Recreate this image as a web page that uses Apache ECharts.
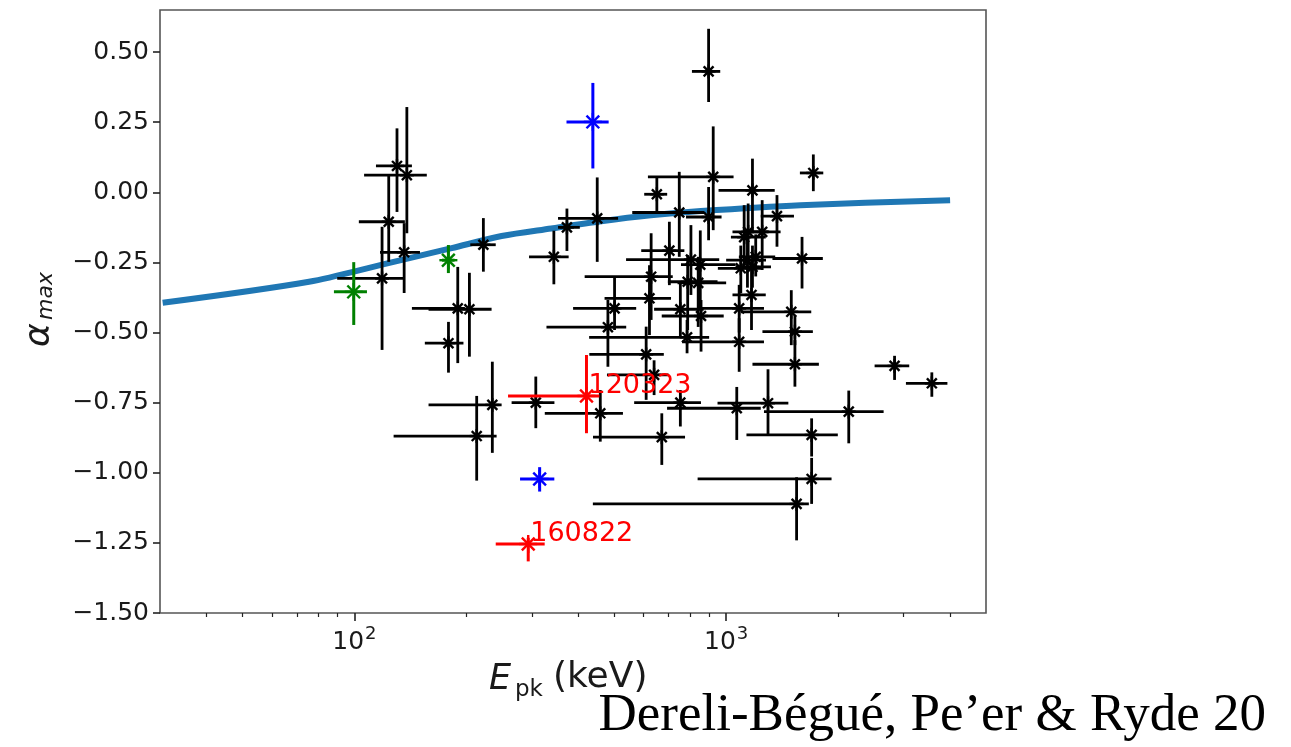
<!DOCTYPE html>
<html>
<head>
<meta charset="utf-8">
<script src="https://cdn.jsdelivr.net/npm/echarts@6/dist/echarts.min.js"></script>
<style>
html,body{margin:0;padding:0;background:#fff;}
#chart{width:1291px;height:747px;}
</style>
</head>
<body>
<div id="chart"></div>
<script>
// Each row: [Epk (keV), alpha_max, Epk low, Epk high, alpha low, alpha high]
const blackPoints = [
  [118.7, -0.307, 89.9, 135.6, -0.562, -0.123],
  [123.7, -0.105, 102.8, 136.7, -0.248, 0.061],
  [130.2, 0.094, 114.3, 142.8, -0.070, 0.228],
  [138.4, 0.061, 106.2, 156.6, -0.146, 0.304],
  [136.1, -0.214, 117.2, 150.1, -0.359, -0.110],
  [189.7, -0.414, 142.8, 198.1, -0.609, -0.266],
  [203.9, -0.417, 158.3, 233.9, -0.586, -0.287],
  [179.1, -0.538, 154.7, 196.5, -0.643, -0.462],
  [222.3, -0.187, 205, 240, -0.283, -0.092],
  [235.0, -0.758, 158.3, 248.9, -0.929, -0.604],
  [213.3, -0.869, 127.5, 241.3, -1.028, -0.726],
  [307.6, -0.750, 264.8, 345.2, -0.841, -0.657],
  [458.6, -0.788, 325.2, 527.7, -0.889, -0.705],
  [671.3, -0.873, 438.4, 775.2, -0.972, -0.788],
  [480.8, -0.481, 328.6, 538.5, -0.622, -0.384],
  [501.0, -0.414, 387.5, 572.8, -0.491, -0.301],
  [609.3, -0.578, 428.5, 679.7, -0.740, -0.479],
  [640, -0.651, 478, 700, -0.723, -0.599],
  [621.9, -0.378, 470.9, 710.8, -0.509, -0.260],
  [628.4, -0.301, 416.3, 718.4, -0.455, -0.146],
  [753.0, -0.750, 565.7, 855.6, -0.835, -0.705],
  [1068, -0.770, 693.5, 1239, -0.883, -0.694],
  [1296, -0.752, 948, 1470, -0.865, -0.631],
  [2137, -0.782, 1264, 2652, -0.895, -0.707],
  [1698, -0.865, 1134, 1997, -0.942, -0.806],
  [1698, -1.022, 838, 1921, -1.111, -0.947],
  [1547, -1.111, 438, 1669, -1.241, -1.016],
  [2838, -0.619, 2508, 3108, -0.669, -0.583],
  [3575, -0.681, 3045, 3937, -0.729, -0.642],
  [1531, -0.613, 1177, 1776, -0.693, -0.527],
  [1531, -0.497, 1252, 1711, -0.545, -0.438],
  [1497, -0.426, 1095, 1694, -0.545, -0.349],
  [1084, -0.533, 761, 1264, -0.640, -0.449],
  [1084, -0.414, 856, 1264, -0.500, -0.330],
  [785, -0.517, 428, 900, -0.574, -0.455],
  [753, -0.417, 640, 870, -0.520, -0.320],
  [856, -0.441, 671, 985, -0.568, -0.384],
  [897, 0.431, 809, 964, 0.322, 0.583],
  [923, 0.055, 616, 1047, -0.135, 0.235],
  [1177, 0.007, 954, 1351, -0.146, 0.120],
  [651, -0.007, 602, 694, -0.070, 0.055],
  [748, -0.072, 559, 872, -0.230, 0.073],
  [897, -0.088, 780, 972, -0.171, 0.019],
  [450, -0.093, 353, 512, -0.248, 0.053],
  [373, -0.125, 353, 404, -0.209, -0.058],
  [344, -0.230, 295, 377, -0.328, -0.137],
  [1370, -0.085, 1239, 1522, -0.194, -0.010],
  [703.5, -0.208, 591, 772, -0.331, -0.105],
  [804, -0.240, 538, 958, -0.366, -0.117],
  [852, -0.258, 756, 1060, -0.420, -0.136],
  [788, -0.319, 697, 948, -0.491, -0.224],
  [841, -0.323, 740, 1000, -0.480, -0.230],
  [1118, -0.160, 1030, 1278, -0.260, -0.046],
  [1250, -0.141, 1133, 1401, -0.277, -0.028],
  [1146, -0.141, 1040, 1300, -0.250, -0.040],
  [1201, -0.230, 1082, 1355, -0.300, -0.150],
  [1141, -0.242, 1000, 1280, -0.340, -0.160],
  [1095, -0.271, 950, 1250, -0.360, -0.190],
  [1177, -0.266, 1060, 1320, -0.340, -0.190],
  [1600, -0.236, 1332, 1820, -0.343, -0.159],
  [1170, -0.366, 1040, 1278, -0.491, -0.277],
  [1716, 0.069, 1579, 1825, 0.004, 0.135]
];
const bluePoints = [
  [438, 0.251, 372, 483, 0.085, 0.390],
  [315, -1.022, 279, 345, -1.067, -0.980]
];
const greenPoints = [
  [99.6, -0.355, 88.1, 108.1, -0.473, -0.249],
  [179, -0.242, 172, 186, -0.288, -0.188]
];
const redPoints = [
  [421, -0.726, 259, 456, -0.859, -0.580],
  [293.5, -1.254, 240, 325, -1.316, -1.232]
];
const redLabels = ['120323', '160822'];
// model curve: [Epk, alpha_max]
const curveE = [30.5, 75.5, 118.7, 182.7, 248.9, 338.5, 461, 627, 855, 1584, 4003];
const curveA = [-0.394, -0.319, -0.258, -0.199, -0.156, -0.129, -0.103, -0.082, -0.067, -0.046, -0.028];
const yTicks = [-1.5, -1.25, -1.0, -0.75, -0.5, -0.25, 0, 0.25, 0.5];
const xMajorTicks = [100, 1000];
const xMajorExp = ['2', '3'];
const xMinorTicks = [40, 50, 60, 70, 80, 90, 200, 300, 400, 500, 600, 700, 800, 900, 2000, 3000, 4000];

const FONT = 'DejaVu Sans';

function makeRender(color, lw, arm, labels) {
  return function (params, api) {
    const E = api.value(0), a = api.value(1);
    const c = api.coord([E, a]);
    const l = api.coord([api.value(2), a]);
    const r = api.coord([api.value(3), a]);
    const b = api.coord([E, api.value(4)]);
    const t = api.coord([E, api.value(5)]);
    const st = { stroke: color, lineWidth: lw };
    const ch = [
      { type: 'line', shape: { x1: l[0], y1: c[1], x2: r[0], y2: c[1] }, style: st },
      { type: 'line', shape: { x1: c[0], y1: b[1], x2: c[0], y2: t[1] }, style: st }
    ];
    const angs = [Math.PI / 4, -Math.PI / 4, 0, Math.PI / 2];
    angs.forEach(function (g) {
      const dx = Math.cos(g) * arm, dy = Math.sin(g) * arm;
      ch.push({ type: 'line', shape: { x1: c[0] - dx, y1: c[1] - dy, x2: c[0] + dx, y2: c[1] + dy },
        style: { stroke: color, lineWidth: 2.4 } });
    });
    ch.push({ type: 'circle', shape: { cx: c[0], cy: c[1], r: 2.8 }, style: { fill: color } });
    if (labels) {
      ch.push({ type: 'text', x: c[0] + 2, y: c[1] - 10,
        style: { text: labels[params.dataIndex], fill: color, fontSize: 27, fontFamily: FONT,
          align: 'left', verticalAlign: 'middle', textAlign: 'left', textVerticalAlign: 'middle' } });
    }
    return { type: 'group', children: ch };
  };
}

function errSeries(data, color, lw, arm, labels, z) {
  return {
    type: 'custom', data: data, renderItem: makeRender(color, lw, arm, labels),
    encode: { x: 0, y: 1 }, z: z, silent: true, clip: false
  };
}

const chart = echarts.init(document.getElementById('chart'), null, { renderer: 'canvas' });
const fmtY = function (v) { return v.toFixed(2).replace('-', '\u2212'); };

chart.setOption({
  animation: false,
  grid: { left: 160, top: 10, width: 826, height: 603, show: true, borderColor: '#555', borderWidth: 1.6, backgroundColor: 'transparent' },
  xAxis: [
    {
      type: 'log', logBase: 10, min: 30, max: 5000, position: 'bottom',
      axisLine: { show: false, onZero: false },
      splitLine: { show: false },
      axisTick: { show: true, length: 8, inside: false, lineStyle: { color: '#222', width: 1.6 }, customValues: xMajorTicks },
      axisLabel: { show: true, customValues: xMajorTicks, margin: 12, color: '#1a1a1a', fontFamily: FONT,
        formatter: function (v) { const i = xMajorTicks.indexOf(Math.round(v)); return i >= 0 ? '{b|10}{s|' + xMajorExp[i] + '}' : ''; },
        rich: {
          b: { fontSize: 25, fontFamily: FONT, color: '#1a1a1a', lineHeight: 30, verticalAlign: 'bottom' },
          s: { fontSize: 18, fontFamily: FONT, color: '#1a1a1a', lineHeight: 30, verticalAlign: 'top', padding: [0, 0, 0, 1] }
        } }
    },
    {
      type: 'log', logBase: 10, min: 30, max: 5000, position: 'bottom',
      axisLine: { show: false, onZero: false }, splitLine: { show: false },
      axisTick: { show: true, length: 4, lineStyle: { color: '#222', width: 1.2 }, customValues: xMinorTicks },
      axisLabel: { show: false }
    }
  ],
  yAxis: {
    type: 'value', min: -1.5, max: 0.65, interval: 0.25,
    axisLine: { show: false, onZero: false }, splitLine: { show: false },
    axisTick: { show: true, length: 7, lineStyle: { color: '#222', width: 1.6 }, customValues: yTicks },
    axisLabel: { customValues: yTicks, margin: 11, color: '#1a1a1a', fontSize: 25, fontFamily: FONT, formatter: fmtY }
  },
  series: [
    {
      type: 'line', data: curveE.map(function (e, i) { return [e, curveA[i]]; }),
      showSymbol: false, symbol: 'none', smooth: 0.3,
      lineStyle: { color: '#1f77b4', width: 6 }, z: 1, silent: true
    },
    errSeries(blackPoints, '#000', 2.8, 7, null, 3),
    errSeries(greenPoints, '#008000', 3, 9, null, 4),
    errSeries(bluePoints, '#0000ff', 3, 9, null, 4),
    errSeries(redPoints, '#ff0000', 3, 9, redLabels, 5)
  ],
  graphic: [
    { type: 'text', x: 489, y: 680, style: { text: 'E', fill: '#1a1a1a', font: 'italic 35px "DejaVu Sans"', textAlign: 'left', textVerticalAlign: 'middle', align: 'left', verticalAlign: 'middle' } },
    { type: 'text', x: 515, y: 690, style: { text: 'pk', fill: '#1a1a1a', font: '23px "DejaVu Sans"', textAlign: 'left', textVerticalAlign: 'middle', align: 'left', verticalAlign: 'middle' } },
    { type: 'text', x: 553, y: 678, style: { text: '(keV)', fill: '#1a1a1a', font: '36px "DejaVu Sans"', textAlign: 'left', textVerticalAlign: 'middle', align: 'left', verticalAlign: 'middle' } },
    { type: 'group', x: 40, y: 347, rotation: Math.PI / 2, children: [
      { type: 'text', x: 0, y: 0, style: { text: '\u03B1', fill: '#1a1a1a', font: 'italic 36px "DejaVu Sans"', textAlign: 'left', textVerticalAlign: 'middle', align: 'left', verticalAlign: 'middle' } },
      { type: 'text', x: 27, y: 6, style: { text: 'max', fill: '#1a1a1a', font: 'italic 22px "DejaVu Sans"', textAlign: 'left', textVerticalAlign: 'middle', align: 'left', verticalAlign: 'middle' } }
    ] },
    { type: 'text', x: 1266, y: 716, style: { text: 'Dereli-B\u00E9gu\u00E9, Pe\u2019er & Ryde 20', fill: '#000', font: '53px "Liberation Serif"', textAlign: 'right', textVerticalAlign: 'middle', align: 'right', verticalAlign: 'middle' } }
  ]
});
</script>
</body>
</html>
